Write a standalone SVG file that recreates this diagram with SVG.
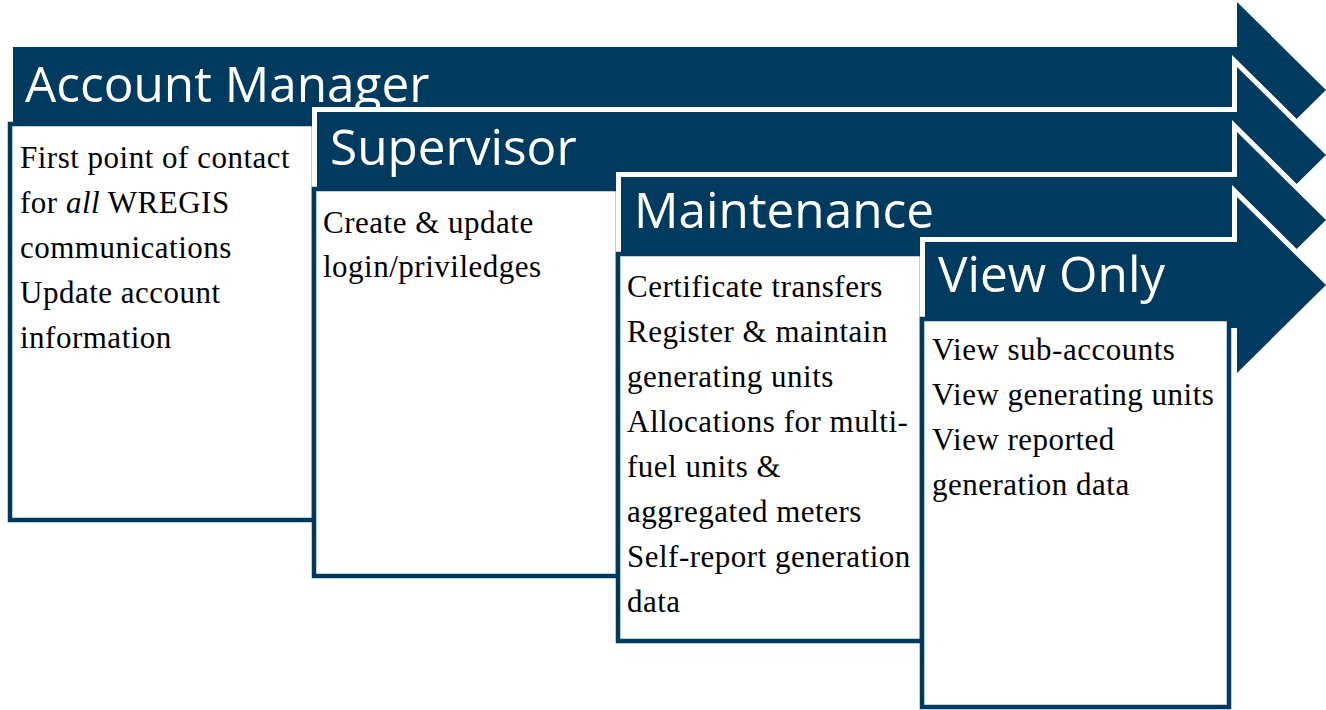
<svg xmlns="http://www.w3.org/2000/svg" width="1326" height="710" viewBox="0 0 1326 710">
  <style>
    .arrow { fill: #003a5e; stroke: #ffffff; stroke-width: 10; paint-order: stroke; stroke-linejoin: miter; }
    .box { fill: #ffffff; stroke: #003a5e; stroke-width: 4.5; }
    .title { font-family: "Open Sans", "Liberation Sans", sans-serif; font-size: 49.5px; fill: #ffffff; }
    .body { font-family: "Liberation Serif", serif; font-size: 31px; letter-spacing: 0.5px; fill: #000000; }
  </style>
  <rect x="0" y="0" width="1326" height="710" fill="#ffffff"/>

  <!-- Each role: a banner arrow pointing right, with a duties panel hanging below it -->
  <g id="stage-account-manager">
    <path class="arrow" d="M13,47 H1237 V2 L1326,90 L1237,178 V133 H13 Z"/>
    <rect class="box" x="10" y="124" width="304" height="396"/>
    <text class="title" x="25" y="102">Account Manager</text>
    <text class="body" x="20" y="168">First point of contact</text>
    <text class="body" x="20" y="213">for <tspan font-style="italic">all</tspan> WREGIS</text>
    <text class="body" x="20" y="258">communications</text>
    <text class="body" x="20" y="303">Update account</text>
    <text class="body" x="20" y="348">information</text>
  </g>

  <g id="stage-supervisor">
    <path class="arrow" d="M317,112 H1237 V67 L1326,155 L1237,243 V198 H317 Z"/>
    <rect class="box" x="314" y="189" width="304" height="387"/>
    <text class="title" x="330" y="165">Supervisor</text>
    <text class="body" x="323" y="233">Create &amp; update</text>
    <text class="body" x="323" y="277">login/priviledges</text>
  </g>

  <g id="stage-maintenance">
    <path class="arrow" d="M621,177 H1237 V132 L1326,220 L1237,308 V263 H621 Z"/>
    <rect class="box" x="618" y="254" width="304" height="387"/>
    <text class="title" x="634" y="228">Maintenance</text>
    <text class="body" x="627" y="297">Certificate transfers</text>
    <text class="body" x="627" y="342">Register &amp; maintain</text>
    <text class="body" x="627" y="387">generating units</text>
    <text class="body" x="627" y="432">Allocations for multi-</text>
    <text class="body" x="627" y="477">fuel units &amp;</text>
    <text class="body" x="627" y="522">aggregated meters</text>
    <text class="body" x="627" y="567">Self-report generation</text>
    <text class="body" x="627" y="612">data</text>
  </g>

  <g id="stage-view-only">
    <path class="arrow" d="M925,242 H1237 V197 L1326,285 L1237,373 V328 H925 Z"/>
    <rect class="box" x="922" y="319" width="307" height="388"/>
    <text class="title" x="938" y="292">View Only</text>
    <text class="body" x="932" y="360">View sub-accounts</text>
    <text class="body" x="932" y="405">View generating units</text>
    <text class="body" x="932" y="450">View reported</text>
    <text class="body" x="932" y="495">generation data</text>
  </g>

  <g id="connectors"/>
</svg>
